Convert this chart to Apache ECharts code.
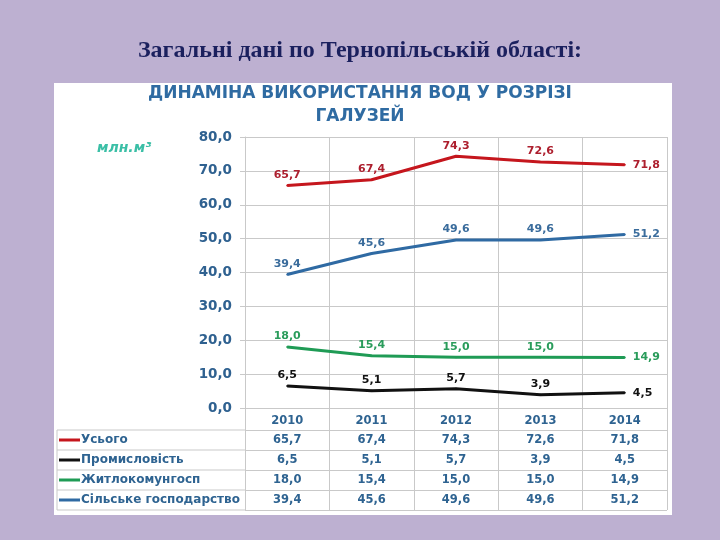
<!DOCTYPE html>
<html>
<head>
<meta charset="utf-8">
<script src="https://cdn.jsdelivr.net/npm/echarts@6/dist/echarts.min.js"></script>
<style>html,body{margin:0;padding:0;background:#bdb0d1;}#c{width:720px;height:540px;}</style>
</head>
<body>
<div id="c"></div>
<script>
const years = ['2010', '2011', '2012', '2013', '2014'];
const rowNames = ['Усього', 'Промисловість', 'Житлокомунгосп', 'Сільське господарство'];
const total = [65.7, 67.4, 74.3, 72.6, 71.8];
const industry = [6.5, 5.1, 5.7, 3.9, 4.5];
const housing = [18.0, 15.4, 15.0, 15.0, 14.9];
const agriculture = [39.4, 45.6, 49.6, 49.6, 51.2];
const yMin = 0, yMax = 80, yStep = 10;

const lineColors = ['#c5161d', '#111111', '#1f9b55', '#2f6aa3'];
const labelColors = ['#ad1f2e', '#111111', '#2a9c5b', '#3a6c9c'];
const values = [total, industry, housing, agriculture];
const fmt = v => Number(v).toFixed(1).replace('.', ',');
const blue = '#2e6391';
const gridGray = '#c9c9c9';
const FF = '"DejaVu Sans", Verdana, sans-serif';

const chart = echarts.init(document.getElementById('c'));

const lineSeries = values.map((arr, k) => ({
  type: 'line', name: rowNames[k], xAxisIndex: 0, yAxisIndex: 0,
  data: arr.map((v, i) => i === arr.length - 1 ? { value: v, label: { position: 'right', distance: 7 } } : v),
  symbol: 'circle', symbolSize: 2, showSymbol: true,
  itemStyle: { color: lineColors[k] },
  lineStyle: { color: lineColors[k], width: 3 },
  label: { show: true, position: 'top', distance: 4, formatter: p => fmt(p.value),
    color: labelColors[k], fontWeight: 'bold', fontSize: 11, fontFamily: FF },
  z: 3
}));

const tableSeries = values.map((arr, k) => ({
  type: 'scatter', xAxisIndex: 1, yAxisIndex: 1,
  data: arr.map((v, i) => [i, k, v]),
  symbolSize: 1, itemStyle: { color: '#ffffff', opacity: 1 },
  label: { show: true, position: 'inside', formatter: p => fmt(p.value[2]), opacity: 1,
    color: blue, fontWeight: 'bold', fontSize: 11.5, fontFamily: FF, textBorderWidth: 0 }
}));

const rich = { t: { color: blue, fontWeight: 'bold', fontSize: 12, fontFamily: FF, padding: [0, 0, 0, 1] } };
rowNames.forEach((n, k) => { rich['m' + k] = { width: 21, height: 3, backgroundColor: lineColors[k] }; });

const tableTop = 430, rowH = 20, tableLeft = 57, plotLeft = 245;
const tableLines = [];
for (let i = 0; i <= rowNames.length; i++) {
  tableLines.push({ type: 'line', shape: { x1: tableLeft, y1: tableTop + i * rowH, x2: plotLeft, y2: tableTop + i * rowH },
    style: { stroke: gridGray, lineWidth: 1 } });
}
tableLines.push({ type: 'line', shape: { x1: tableLeft, y1: tableTop, x2: tableLeft, y2: tableTop + rowNames.length * rowH },
  style: { stroke: gridGray, lineWidth: 1 } });

chart.setOption({
  animation: false,
  backgroundColor: '#bdb0d1',
  title: [
    { text: 'Загальні дані по Тернопільській області:', left: 'center', top: 34,
      textStyle: { fontFamily: '"Liberation Serif", "Times New Roman", serif', fontWeight: 'bold', fontSize: 24, color: '#1b205e' } },
    { text: 'ДИНАМІНА ВИКОРИСТАННЯ ВОД У РОЗРІЗІ\nГАЛУЗЕЙ', left: 'center', top: 77,
      textStyle: { fontFamily: FF, fontWeight: 'bold', fontSize: 17, lineHeight: 23, color: '#2f6ba2' } }
  ],
  graphic: [
    { type: 'rect', shape: { x: 54, y: 83, width: 618, height: 432 }, style: { fill: '#ffffff' }, z: -10 },
    { type: 'text', x: 97, y: 141, style: { text: 'млн.м³', fill: '#3bbfa6', font: 'italic bold 14px "DejaVu Sans", Verdana' } }
  ].concat(tableLines),
  grid: [
    { left: 245, right: 53, top: 137, height: 271 },
    { left: 245, right: 53, top: 430, height: 80 }
  ],
  xAxis: [
    { type: 'category', gridIndex: 0, data: years, boundaryGap: true,
      axisLine: { show: true, lineStyle: { color: gridGray } },
      axisTick: { show: true, length: 22, interval: 0, lineStyle: { color: gridGray } },
      splitLine: { show: true, interval: 0, lineStyle: { color: gridGray } },
      axisLabel: { color: blue, fontWeight: 'bold', fontSize: 11.5, fontFamily: FF, margin: 7, interval: 0 } },
    { type: 'category', gridIndex: 1, data: years, boundaryGap: true,
      axisLine: { show: false }, axisTick: { show: false }, axisLabel: { show: false },
      splitLine: { show: true, interval: 0, lineStyle: { color: gridGray } } }
  ],
  yAxis: [
    { type: 'value', gridIndex: 0, min: yMin, max: yMax, interval: yStep,
      axisLine: { show: true, lineStyle: { color: gridGray } },
      axisTick: { show: true, length: 5, lineStyle: { color: gridGray } },
      splitLine: { show: true, lineStyle: { color: gridGray } },
      axisLabel: { formatter: v => fmt(v), color: '#2f6190', fontWeight: 'bold', fontSize: 13.5, fontFamily: FF, margin: 13 } },
    { type: 'category', gridIndex: 1, data: rowNames, inverse: true, boundaryGap: true,
      axisLine: { show: true, lineStyle: { color: gridGray } }, axisTick: { show: false },
      splitLine: { show: true, interval: 0, lineStyle: { color: gridGray } },
      axisLabel: { interval: 0, align: 'left', margin: 186,
        formatter: (v, i) => '{m' + i + '|}{t|' + v + '}', rich: rich } }
  ],
  series: lineSeries.concat(tableSeries)
});
</script>
</body>
</html>
